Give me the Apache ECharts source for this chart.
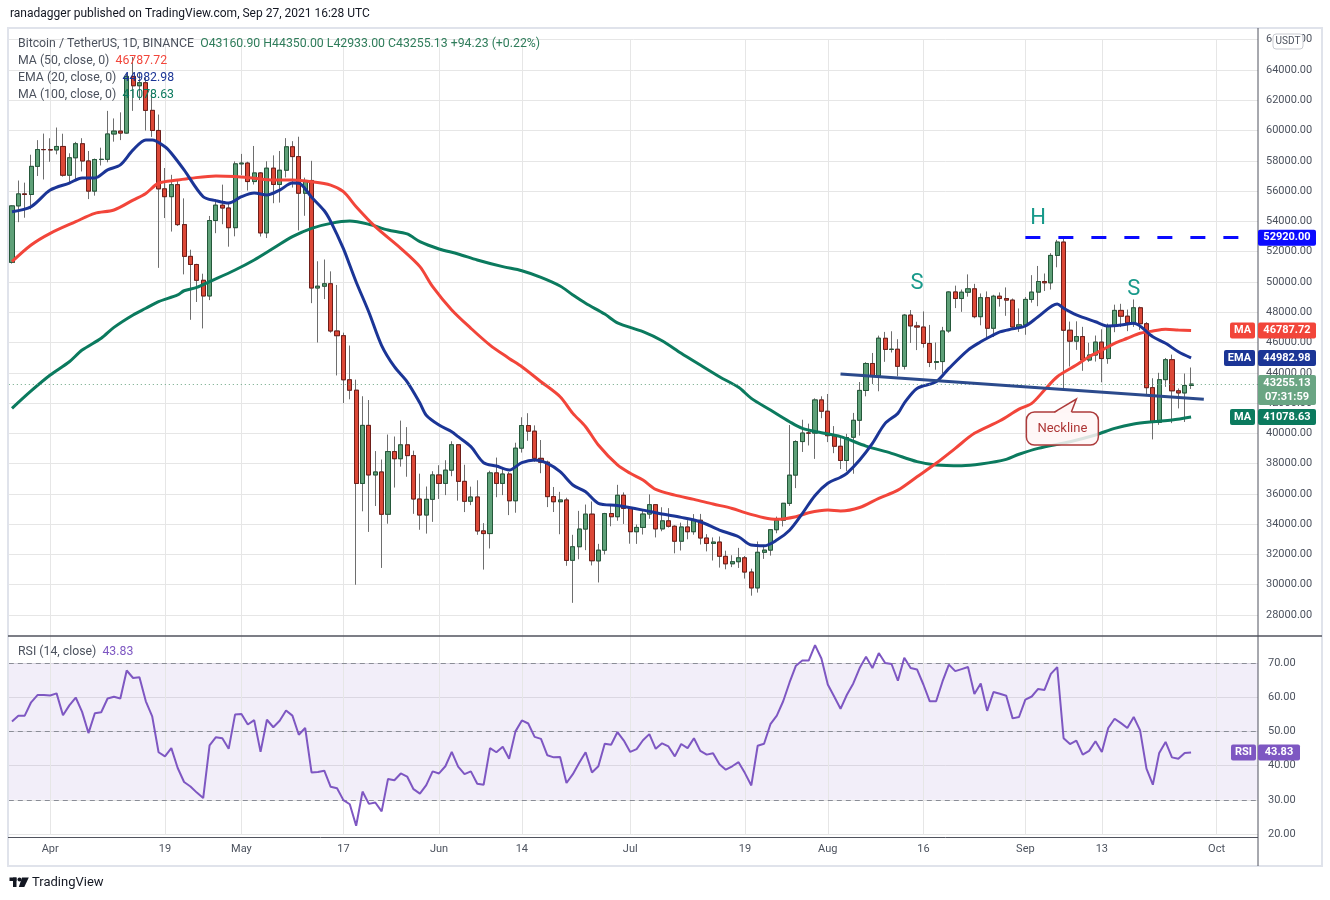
<!DOCTYPE html>
<html>
<head>
<meta charset="utf-8">
<script src="https://cdn.jsdelivr.net/npm/echarts@6/dist/echarts.min.js"></script>
<style>html,body{margin:0;padding:0;background:#fff;}#c{width:1330px;height:900px;}</style>
</head>
<body>
<div id="c"></div>
<script>
// ---------- DATA ----------
const startDate = Date.UTC(2021, 2, 26);   // first candle: 2021-03-26
const totalSlots = 196;                      // category slots incl. empty space to the right
const opens = [51293,55025,55817,55777,57635,58746,58739,58720,58950,57051,58202,59129,57991,56000,58088,58102,59774,59964,59834,63576,62959,63159,61334,60006,56150,55633,56425,53787,51690,51153,50110,49075,54057,55071,54884,53585,57800,57850,56631,57200,53241,57515,56440,57380,58928,58280,55859,56704,49600,49720,49881,46761,46450,43538,42850,36690,40526,37252,37449,34655,38796,38324,39241,38529,35663,34605,35641,37253,36694,37568,39246,36829,35516,35796,33556,33380,37389,36694,37313,35546,39020,40516,40143,38349,38093,35820,35483,35600,31614,32510,33676,34663,31577,32283,34702,34494,35911,35046,33502,33786,34669,35288,33690,34220,33863,32875,33816,33503,34259,33086,32729,32820,31874,31384,31521,31778,30839,29790,32144,32287,33634,34262,35376,37241,39457,40020,40016,42207,41461,39850,39146,38208,39744,40865,42832,44614,43794,46280,45544,45555,44429,47810,47096,47019,45937,44686,44741,46763,49339,48905,49321,49546,47706,48960,46942,49058,48903,48800,47025,47166,48847,49329,50026,49944,51753,52633,46811,46091,46391,44843,45174,46025,44940,47103,48121,47737,47299,48292,47241,43016,40729,43547,44866,42810,42670,43160.9];
const highs = [55073,56700,56559,58405,59368,59800,59490,60200,59791,58500,59251,59495,58650,58153,58869,61300,60800,61200,63774,64854,63800,63520,62506,61057,57526,57076,56757,55521,52130,51200,50544,54359,55460,56428,55200,57963,58458,57941,58981,57254,57972,58360,58650,59500,59300,59592,56888,58000,51367,51483,50700,49800,46650,45800,43546,42451,42200,38829,38270,39920,39791,40841,40411,38856,37338,36488,37499,37894,38225,39476,39289,37925,36480,36900,34068,37530,38400,37690,37439,39380,41064,41330,40527,39559,38200,36457,36137,35750,33298,34881,35298,35500,32700,34749,35297,36600,36100,35057,33977,34945,35967,35293,35118,35059,33929,34100,34262,34666,34678,33340,33125,33186,32249,31950,32435,31899,31063,32858,32591,33650,34500,35398,40550,39542,40900,40640,42316,42448,42599,40480,39780,39969,41350,43392,44700,45310,46454,46700,46743,46218,47886,48144,47372,48053,47160,46000,47033,49382,49757,49500,50500,49875,49240,49375,49150,49309,49638,48906,48250,49000,50450,51056,50558,51900,52780,52920,47381,47400,47033,45987,46460,46874,47250,48500,48557,48177,48843,48372,47347,43639,44000,44978,45200,42966,43950,44350];
const lows = [51214,53950,54242,54800,57000,56769,57935,58428,56955,56478,56800,57300,55473,55700,57693,57905,59266,59369,59792,61301,62020,60000,59581,50931,54221,53329,53695,50500,47500,48676,46930,48800,53222,53813,52330,53013,57052,56035,56436,53000,52900,55200,55241,56900,56235,53400,54370,48600,46000,48870,46650,43825,42001,42250,30000,34850,33488,35200,31111,34031,36419,37800,37134,34684,33632,33379,34153,35666,35920,37170,35555,34800,35258,33300,31000,32396,35782,35920,34600,34757,38730,39506,38116,37365,35129,34803,33336,31251,28805,31683,32286,31275,30151,32000,33862,34225,34017,32711,32699,33316,34357,33125,33532,33777,32077,32261,33004,33306,32658,32202,31600,31133,31020,31164,31108,30407,29278,29482,31708,31925,33401,33851,35205,36383,38772,39200,38313,41000,39422,38690,37642,37508,37332,39853,42446,43261,42779,44723,45341,43770,44217,45971,45500,45660,44377,44203,43955,46643,48274,48025,49029,47600,47135,46315,46360,48371,47762,46870,46700,46512,48633,48400,49400,49500,50969,42843,44412,45513,44132,44722,44742,43370,44594,46682,47021,46750,47033,46829,42500,39600,40565,43069,40675,41646,40750,42933];
const closes = [55025,55817,55777,57635,58746,58740,58720,58950,57051,58202,59129,57991,56000,58088,58102,59774,59964,59834,63576,62959,63159,61334,60006,56150,55633,56425,53787,51690,51153,50110,49075,54057,55071,54884,53585,57800,57850,56631,57200,53241,57515,56440,57380,58928,58280,55859,56704,49600,49720,49881,46761,46450,43538,42850,36690,40526,37252,37449,34655,38796,38324,39241,38529,35663,34605,35641,37253,36693,37568,39246,36829,35513,35796,33552,33380,37389,36693,37313,35546,39020,40516,40144,38349,38092,35820,35483,35600,31608,32509,33678,34663,31585,32283,34700,34494,35911,35045,33504,33786,34669,35287,33690,34220,33862,32875,33815,33502,34259,33087,32730,32820,31880,31383,31521,31778,30839,29790,32144,32287,33634,34258,35381,37237,39457,40019,40016,42206,41461,39846,39147,38207,39723,40862,42836,44614,43792,46285,45543,45555,44428,47810,47096,47019,45936,44686,44741,46763,49339,48905,49321,49546,47706,48960,46942,49058,48903,48800,47025,47166,48847,49328,50026,49944,51753,52633,46811,46091,46391,44843,45174,46025,44940,47111,48121,47737,47299,48292,47241,43016,40734,43543,44865,42810,42670,43160.9,43255.13];
const rsi14 = [52.9,54.6,54.6,58.5,60.6,60.6,60.5,61.1,54.7,57.6,59.9,55.7,49.5,55.3,55.6,59.6,60.1,59.6,67.8,65.6,65.8,58.8,54.4,43.9,42.7,45.1,39.3,35.2,33.9,32.1,30.5,45.9,48.3,48.0,44.9,54.9,55.1,52.0,53.3,44.0,53.4,51.2,53.1,56.1,54.6,49.0,51.0,38.0,38.1,38.5,33.8,33.4,29.9,28.7,22.4,32.4,28.8,29.2,26.6,36.1,35.7,37.7,36.8,33.1,31.8,34.3,38.3,37.7,39.8,44.0,39.7,37.5,38.3,34.7,34.4,45.1,43.9,45.5,42.0,50.0,53.2,52.3,48.4,47.8,43.0,42.4,42.5,34.9,37.5,40.8,43.9,38.0,39.8,46.4,46.1,49.8,47.3,44.0,44.8,47.4,49.2,44.9,46.5,45.6,42.7,46.3,45.1,48.0,44.3,43.2,43.6,40.4,38.8,39.8,41.0,37.8,34.2,45.8,46.4,52.1,54.6,58.8,64.3,69.2,70.7,70.7,75.2,71.3,63.7,60.2,56.6,60.7,64.0,68.5,71.8,68.5,72.9,70.0,69.7,64.8,71.5,68.5,68.1,63.7,58.8,58.8,64.6,69.5,67.6,68.2,68.8,60.9,64.0,56.0,61.5,61.0,60.4,53.8,54.2,59.3,60.2,62.4,62.1,66.8,68.8,48.0,46.3,47.3,43.2,44.3,47.1,44.0,51.0,53.7,52.4,51.0,54.2,50.3,39.1,34.4,43.7,46.9,42.4,42.0,43.7,43.83];
// indicator lines: [day index, value]
const ema20Pts = [[0,54640],[3,54970],[6,56070],[9,56530],[11,56870],[13,56870],[15,57400],[17,57730],[19,58720],[21,59380],[22,59380],[24,58930],[25,58500],[27,57400],[30,55630],[32,55370],[34,55210],[36,55630],[38,55870],[40,55740],[42,56070],[44,56530],[45,56520],[47,55600],[49,54700],[50,54000],[52,52200],[53,51100],[54,50000],[56,48000],[58,45800],[60,44400],[62,43400],[64,42000],[65,41200],[67,40550],[69,40110],[70,39780],[72,39120],[74,38060],[76,37840],[78,37580],[80,38060],[82,38240],[84,38020],[86,37470],[88,36590],[90,36140],[92,35380],[95,35230],[99,34930],[102,34670],[105,34450],[108,34160],[111,33610],[114,33170],[116,32620],[118,32570],[120,32950],[122,33600],[124,34700],[126,35900],[128,36700],[130,37100],[131,37360],[133,38240],[135,39340],[137,40660],[139,41320],[140,42000],[142,42970],[145,43410],[147,44290],[150,45500],[152,46050],[153,46280],[155,46700],[157,46900],[159,47090],[161,47700],[164,48540],[165,48260],[167,47820],[170,47370],[172,47090],[174,47150],[176,47270],[179,46380],[181,45950],[183,45390],[185,44982.98]];
const ma50Pts = [[0,51340],[3,52440],[6,53210],[10,53980],[13,54530],[16,54750],[19,55410],[21,55850],[23,56520],[26,56730],[28,56850],[32,57000],[35,56960],[38,56850],[41,56730],[44,56730],[47,56620],[50,56400],[52,55960],[54,54970],[57,53650],[61,52220],[64,51010],[66,49690],[69,48150],[72,46940],[75,45830],[78,44950],[80,44400],[83,43410],[86,42420],[88,41320],[90,40440],[92,39230],[95,37910],[97,37360],[99,36920],[101,36300],[104,35920],[107,35640],[110,35330],[113,35040],[115,34760],[118,34430],[120,34320],[123,34490],[125,34760],[128,34930],[130,34870],[133,35100],[136,35710],[139,36250],[142,37130],[145,38020],[148,39010],[151,40000],[155,40830],[158,41600],[160,41980],[162,42860],[164,43740],[167,44510],[169,45060],[171,45500],[173,45950],[175,46280],[177,46610],[179,46760],[181,46870],[183,46820],[185,46787.72]];
const ma100Pts = [[0,41650],[3,42800],[6,43850],[9,44730],[11,45500],[14,46280],[16,47000],[19,47820],[21,48260],[23,48700],[26,49140],[27,49420],[29,49640],[31,50020],[35,50790],[38,51450],[41,52220],[44,52990],[47,53540],[50,53870],[53,54020],[56,53810],[59,53430],[62,53170],[64,52660],[67,52180],[70,51850],[73,51450],[77,51010],[80,50740],[83,50300],[86,49730],[88,49140],[90,48590],[93,47880],[95,47300],[99,46720],[102,46120],[105,45290],[108,44510],[111,43740],[114,43040],[116,42310],[119,41540],[122,40770],[124,40330],[127,40040],[130,39780],[134,39160],[138,38680],[142,38130],[145,37910],[149,37860],[152,37970],[156,38280],[158,38620],[161,39010],[166,39450],[170,39890],[173,40330],[176,40620],[179,40770],[182,40880],[185,41078.63]];
const dateTicks = {'2021-04-01':'Apr','2021-04-19':'19','2021-05-01':'May','2021-05-17':'17','2021-06-01':'Jun','2021-06-14':'14','2021-07-01':'Jul','2021-07-19':'19','2021-08-01':'Aug','2021-08-16':'16','2021-09-01':'Sep','2021-09-13':'13','2021-10-01':'Oct'};
const headLevel = 52920;
const headLineStart = '2021-09-01';
const necklinePts = [['2021-08-03', 43920], ['2021-09-29', 42250]];
const patternLabels = [['H','2021-09-03',54220],['S','2021-08-15',49930],['S','2021-09-18',49530]];
const calloutTip = ['2021-09-09', 42266];
const countdown = '07:31:59';

// ---------- BUILD ----------
const dates = [];
for (let i = 0; i < totalSlots; i++) dates.push(new Date(startDate + i * 864e5).toISOString().slice(0, 10));
const n = closes.length, last = n - 1;
const di = d => dates.indexOf(d);
const candleData = closes.map((c, i) => [opens[i], c, lows[i], highs[i]]);
const bodyData = closes.map((c, i) => [opens[i], c, Math.min(opens[i], c), Math.max(opens[i], c)]);
const toLine = pts => pts.map(p => [dates[p[0]], p[1]]);
const tickIdx = Object.keys(dateTicks).map(di);
const FONT = 'Roboto, "DejaVu Sans", sans-serif';
const GRID_C = '#e6e6e6', TXT = '#4c525e';
const C_MA50 = '#f2453a', C_EMA = '#1b3596', C_MA100 = '#0b7a5e', C_RSI = '#7e57c2';

const vLines = tickIdx.map(i => ({xAxis: i}));

const option = {
  animation: false,
  backgroundColor: '#ffffff',
  textStyle: {fontFamily: FONT},
  grid: [
    {left: 8.8, right: 72, top: 39.72, bottom: 254.7},
    {left: 8.8, right: 72, top: 628.75, bottom: 66}
  ],
  xAxis: [
    {type: 'category', gridIndex: 0, data: dates, boundaryGap: true,
     axisLine: {show: false}, axisTick: {show: false}, axisLabel: {show: false}, splitLine: {show: false}},
    {type: 'category', gridIndex: 1, data: dates, boundaryGap: true,
     axisLine: {show: false}, axisTick: {show: false}, splitLine: {show: false},
     axisLabel: {color: TXT, fontSize: 11, margin: 10, fontFamily: FONT,
       interval: (i, v) => dateTicks[v] !== undefined, formatter: v => dateTicks[v] || ''}}
  ],
  yAxis: [
    {type: 'value', gridIndex: 0, position: 'right', min: 26000, max: 66000, interval: 2000,
     axisLine: {show: false}, axisTick: {show: false},
     axisLabel: {color: TXT, fontSize: 11, margin: 8, fontFamily: FONT, showMinLabel: false, formatter: v => v.toFixed(2)},
     splitLine: {show: true, showMinLine: false, lineStyle: {color: GRID_C, width: 1}}},
    {type: 'value', gridIndex: 1, position: 'right', min: 20, max: 80, interval: 10,
     axisLine: {show: false}, axisTick: {show: false},
     axisLabel: {color: TXT, fontSize: 11, margin: 10, fontFamily: FONT, showMaxLabel: false, formatter: v => v.toFixed(2)},
     splitLine: {show: true, showMaxLine: false, lineStyle: {color: GRID_C, width: 1}}}
  ],
  series: [
    {name: 'wicks', type: 'candlestick', xAxisIndex: 0, yAxisIndex: 0, data: candleData, barWidth: '72%', z: 2,
     itemStyle: {color: '#6e6e6e', color0: '#6e6e6e', borderColor: '#6e6e6e', borderColor0: '#6e6e6e', borderWidth: 1}},
    {name: 'bodies', type: 'candlestick', xAxisIndex: 0, yAxisIndex: 0, data: bodyData, barWidth: '72%', z: 2,
     itemStyle: {color: '#5ea078', color0: '#dc4837', borderColor: '#24583a', borderColor0: '#6e1e19', borderWidth: 1},
     markLine: {silent: true, symbol: 'none', label: {show: false}, z: 5, animation: false,
       data: [
         {yAxis: closes[last], lineStyle: {color: '#6aa583', type: [1, 3], width: 1}},
         [{coord: [di(headLineStart), headLevel]}, {coord: [totalSlots - 1, headLevel], lineStyle: {color: '#0a0aff', width: 3, type: [15, 18]}}],
         [{coord: [di(necklinePts[0][0]), necklinePts[0][1]]}, {coord: [di(necklinePts[1][0]), necklinePts[1][1]], lineStyle: {color: '#2b4a8c', width: 3, type: 'solid'}}]
       ]}},
    {name: 'MA100', type: 'line', xAxisIndex: 0, yAxisIndex: 0, data: toLine(ma100Pts), showSymbol: false, smooth: 0.3, z: 3,
     lineStyle: {color: C_MA100, width: 3},
     markLine: {silent: true, symbol: 'none', label: {show: false}, z: 1, animation: false,
       lineStyle: {color: GRID_C, width: 1, type: 'solid'}, data: vLines}},
    {name: 'MA50', type: 'line', xAxisIndex: 0, yAxisIndex: 0, data: toLine(ma50Pts), showSymbol: false, smooth: 0.3, z: 3,
     lineStyle: {color: C_MA50, width: 3}},
    {name: 'EMA20', type: 'line', xAxisIndex: 0, yAxisIndex: 0, data: toLine(ema20Pts), showSymbol: false, smooth: 0.3, z: 3,
     lineStyle: {color: C_EMA, width: 3}},
    {name: 'RSI', type: 'line', xAxisIndex: 1, yAxisIndex: 1, data: rsi14.map((v, i) => [dates[i], v]), showSymbol: false, z: 3,
     lineStyle: {color: C_RSI, width: 2},
     markArea: {silent: true, z: 0.5, itemStyle: {color: 'rgba(126,87,194,0.1)'}, data: [[{yAxis: 30}, {yAxis: 70}]]},
     markLine: {silent: true, symbol: 'none', label: {show: false}, z: 1, animation: false,
       data: vLines.map(v => Object.assign({lineStyle: {color: GRID_C, width: 1, type: 'solid'}}, v)).concat(
         [70, 50, 30].map(v => ({yAxis: v, lineStyle: {color: '#8a8d96', width: 1, type: [5, 4]}})))}}
  ]
};

const chart = echarts.init(document.getElementById('c'));
chart.setOption(option);

// ---------- overlay texts / tags, positioned via the chart's own scales ----------
const P = (d, v) => chart.convertToPixel({gridIndex: 0}, [di(d), v]);
const yP = v => chart.convertToPixel({yAxisIndex: 0}, v);
const yR = v => chart.convertToPixel({yAxisIndex: 1}, v);
const f2 = v => v.toFixed(2);
const g = [];
const txt = (x, y, text, fill, size, extra) => Object.assign({type: 'text', z: 100,
  style: {x, y, text, fill, font: `${size}px ${FONT}`, fontSize: size, fontFamily: FONT,
    align: 'left', verticalAlign: 'middle', textAlign: 'left', textVerticalAlign: 'middle'}}, extra || {});
const box = (x, y, w, h, fill, stroke, r) => ({type: 'rect', z: 100, shape: {x, y, width: w, height: h, r: r === undefined ? 2 : r},
  style: {fill, stroke: stroke || null, lineWidth: stroke ? 1 : 0}});
const ctext = (x, y, text, fill, size, bold) => ({type: 'text', z: 101,
  style: {x, y, text, fill, font: `${bold ? 'bold ' : ''}${size}px ${FONT}`, fontSize: size, fontWeight: bold ? 'bold' : 'normal', fontFamily: FONT,
    align: 'center', verticalAlign: 'middle', textAlign: 'center', textVerticalAlign: 'middle'}});
const tag = (x, w, yc, bg, label) => { g.push(box(x, yc - 8, w, 16, bg)); g.push(ctext(x + w / 2, yc, label, '#ffffff', 11, true)); };

// frame
g.push({type: 'rect', z: 50, shape: {x: 8, y: 28, width: 1314, height: 838}, style: {fill: 'none', stroke: '#e0e3eb', lineWidth: 2}});
g.push({type: 'line', z: 60, shape: {x1: 1258, y1: 28, x2: 1258, y2: 866}, style: {stroke: '#50535e', lineWidth: 1}});
g.push({type: 'line', z: 60, shape: {x1: 8, y1: 636, x2: 1322, y2: 636}, style: {stroke: '#50535e', lineWidth: 1.5}});
g.push({type: 'line', z: 60, shape: {x1: 8, y1: 837.5, x2: 1258, y2: 837.5}, style: {stroke: '#50535e', lineWidth: 1}});

// header & legends
g.push(txt(10, 14, 'ranadagger published on TradingView.com, Sep 27, 2021 16:28 UTC', '#131722', 12));
const chg = closes[last] - closes[last - 1];
const pct = chg / closes[last - 1] * 100;
const ohlc = `O${f2(opens[last])} H${f2(highs[last])} L${f2(lows[last])} C${f2(closes[last])} ${chg >= 0 ? '+' : ''}${f2(chg)} (${pct >= 0 ? '+' : ''}${f2(pct)}%)`;
const LS = 12.3;
const rich = (col) => ({n: {fill: TXT, fontSize: LS, fontFamily: FONT}, v: {fill: col, fontSize: LS, fontFamily: FONT}});
const legend = (y, a, b, col) => g.push({type: 'text', z: 100, style: {x: 18, y, text: `{n|${a}}  {v|${b}}`, rich: rich(col),
  font: `${LS}px ${FONT}`, verticalAlign: 'middle', textVerticalAlign: 'middle'}});
legend(43.5, 'Bitcoin / TetherUS, 1D, BINANCE', ohlc, '#2f7d5b');
legend(60.5, 'MA (50, close, 0)', f2(ma50Pts[ma50Pts.length - 1][1]), C_MA50);
legend(77.5, 'EMA (20, close, 0)', f2(ema20Pts[ema20Pts.length - 1][1]), C_EMA);
legend(94.5, 'MA (100, close, 0)', f2(ma100Pts[ma100Pts.length - 1][1]), C_MA100);
legend(652, 'RSI (14, close)', f2(rsi14[last]), C_RSI);

// USDT badge
g.push(box(1273, 34, 30, 15, '#ffffff', '#c9cbd1', 3));
g.push(ctext(1288, 41.5, 'USDT', TXT, 10, false));

// price tags
tag(1258, 58, yP(headLevel), '#0a0aff', f2(headLevel));
const m50 = ma50Pts[ma50Pts.length - 1][1], e20 = ema20Pts[ema20Pts.length - 1][1], m100 = ma100Pts[ma100Pts.length - 1][1];
tag(1230, 25, yP(m50), C_MA50, 'MA'); tag(1258, 58, yP(m50), C_MA50, f2(m50));
tag(1224, 31, yP(e20), C_EMA, 'EMA'); tag(1258, 58, yP(e20), C_EMA, f2(e20));
tag(1230, 25, yP(m100), C_MA100, 'MA'); tag(1258, 58, yP(m100), C_MA100, f2(m100));
const yc = yP(closes[last]);
g.push(box(1258, yc - 9, 58, 30, '#6aa583'));
g.push(ctext(1287, yc - 1, f2(closes[last]), '#ffffff', 11, true));
g.push(ctext(1287, yc + 13, countdown, '#ffffff', 11, true));
// RSI tags
tag(1231, 25, yR(rsi14[last]), C_RSI, 'RSI'); tag(1258, 42, yR(rsi14[last]), C_RSI, f2(rsi14[last]));

// pattern letters
patternLabels.forEach(([t, d, v]) => { const p = P(d, v); g.push(ctext(p[0], p[1], t, '#17998a', 22, false)); });

// neckline callout (rounded box + pointer)
const tip = P(calloutTip[0], calloutTip[1]);
const tx = tip[0], ty = tip[1];
const L = tx - 50, R = tx + 22, T = ty + 13, B = ty + 46;
const CF = 'rgba(255,246,246,0.85)', CS = '#ad3b3b';
g.push({type: 'rect', z: 100, shape: {x: L, y: T, width: R - L, height: B - T, r: 8}, style: {fill: CF, stroke: CS, lineWidth: 1.5}});
g.push({type: 'polygon', z: 101, shape: {points: [[tx - 22, T + 1.2], [tx, ty], [tx - 5, T + 1.2]]}, style: {fill: '#fff6f6', stroke: null}});
g.push({type: 'polyline', z: 102, shape: {points: [[tx - 22, T], [tx, ty], [tx - 5, T]]}, style: {fill: null, stroke: CS, lineWidth: 1.5}});
g.push(ctext(tx - 14, ty + 29.5, 'Neckline', '#ad3636', 13, false));

// footer logo
g.push({type: 'rect', z: 100, shape: {x: 9.5, y: 877.5, width: 7, height: 3.5}, style: {fill: '#131722'}});
g.push({type: 'rect', z: 100, shape: {x: 13, y: 877.5, width: 3.5, height: 9.5}, style: {fill: '#131722'}});
g.push({type: 'circle', z: 100, shape: {cx: 19.5, cy: 879.5, r: 2}, style: {fill: '#131722'}});
g.push({type: 'polygon', z: 100, shape: {points: [[22, 877.5], [28.8, 877.5], [24.3, 887], [18.8, 887]]}, style: {fill: '#131722'}});
g.push(txt(32, 882.5, 'TradingView', '#131722', 13));

chart.setOption({graphic: {elements: g}});
</script>
</body>
</html>
